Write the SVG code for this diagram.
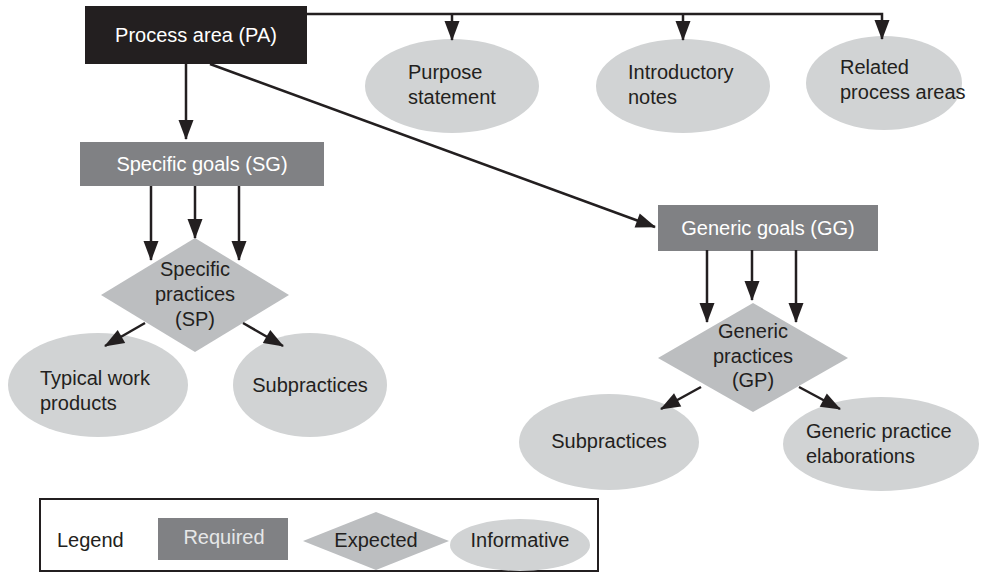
<svg xmlns="http://www.w3.org/2000/svg" width="989" height="577" viewBox="0 0 989 577">
<style>
text{font-family:"Liberation Sans",Arial,sans-serif;font-size:20px;fill:#231f20}
.w{fill:#ffffff}
.lw{fill:#e6e7e8}
.c{text-anchor:middle}
.req{fill:#808184}
.exp{fill:#bcbec0}
.inf{fill:#d1d3d4}
.ln{stroke:#231f20;stroke-width:2.5;fill:none}
</style>
<defs>
<marker id="ah" markerUnits="userSpaceOnUse" markerWidth="20" markerHeight="16" refX="19" refY="8" orient="auto" overflow="visible">
<path d="M0,0.5 L20,8 L0,15.5 z" fill="#231f20"/>
</marker>
</defs>
<rect width="989" height="577" fill="#ffffff"/>

<g id="pa">
<rect x="85" y="6" width="222" height="58" fill="#231f20"/>
<text class="w c" x="196" y="42">Process area (PA)</text>
</g>

<g id="purpose">
<ellipse class="inf" cx="452" cy="86" rx="87" ry="47"/>
<text x="408" y="79">Purpose</text>
<text x="408" y="104">statement</text>
</g>

<g id="intro">
<ellipse class="inf" cx="683" cy="86" rx="87" ry="47"/>
<text x="628" y="79">Introductory</text>
<text x="628" y="104">notes</text>
</g>

<g id="related">
<ellipse class="inf" cx="884" cy="83" rx="78" ry="47"/>
<text x="840" y="74">Related</text>
<text x="840" y="99">process areas</text>
</g>

<g id="sg">
<rect class="req" x="80" y="142" width="244" height="44"/>
<text class="w c" x="202" y="171">Specific goals (SG)</text>
</g>

<g id="sp">
<polygon class="exp" points="195,238 289,295 195,352 101,295"/>
<text class="c" x="195" y="276">Specific</text>
<text class="c" x="195" y="301">practices</text>
<text class="c" x="195" y="326">(SP)</text>
</g>

<g id="twp">
<ellipse class="inf" cx="98" cy="385" rx="90" ry="52"/>
<text x="40" y="385">Typical work</text>
<text x="40" y="410">products</text>
</g>

<g id="subp1">
<ellipse class="inf" cx="310" cy="385" rx="77" ry="52"/>
<text class="c" x="310" y="392">Subpractices</text>
</g>

<g id="gg">
<rect class="req" x="658" y="205" width="220" height="46"/>
<text class="w c" x="768" y="235">Generic goals (GG)</text>
</g>

<g id="gp">
<polygon class="exp" points="753,303 848,358 753,412 658,358"/>
<text class="c" x="753" y="338">Generic</text>
<text class="c" x="753" y="363">practices</text>
<text class="c" x="753" y="387">(GP)</text>
</g>

<g id="subp2">
<ellipse class="inf" cx="609" cy="442" rx="90" ry="48"/>
<text class="c" x="609" y="448">Subpractices</text>
</g>

<g id="gpe">
<ellipse class="inf" cx="881" cy="444" rx="98" ry="47"/>
<text x="806" y="438">Generic practice</text>
<text x="806" y="463">elaborations</text>
</g>

<g id="legend">
<rect x="40" y="499" width="558" height="72" fill="none" stroke="#231f20" stroke-width="2"/>
<text x="57" y="547">Legend</text>
<rect class="req" x="158" y="518" width="130" height="42"/>
<text class="lw c" x="224" y="544">Required</text>
<polygon class="exp" points="376,512 449,541 376,570 303,541"/>
<text class="c" x="376" y="547">Expected</text>
<ellipse class="inf" cx="520" cy="545" rx="70" ry="26"/>
<text class="c" x="520" y="547">Informative</text>
</g>

<g id="connectors">
<path class="ln" d="M307,14 H882 V39" marker-end="url(#ah)"/>
<line class="ln" x1="452" y1="14" x2="452" y2="40" marker-end="url(#ah)"/>
<line class="ln" x1="683" y1="14" x2="683" y2="40" marker-end="url(#ah)"/>
<line class="ln" x1="186" y1="64" x2="186" y2="139" marker-end="url(#ah)"/>
<line class="ln" x1="210" y1="64" x2="655" y2="227" marker-end="url(#ah)"/>
<line class="ln" x1="151" y1="186" x2="151" y2="260" marker-end="url(#ah)"/>
<line class="ln" x1="195" y1="186" x2="195" y2="238" marker-end="url(#ah)"/>
<line class="ln" x1="239" y1="186" x2="239" y2="260" marker-end="url(#ah)"/>
<line class="ln" x1="145" y1="323" x2="105" y2="346" marker-end="url(#ah)"/>
<line class="ln" x1="243" y1="323" x2="283" y2="346" marker-end="url(#ah)"/>
<line class="ln" x1="707" y1="250" x2="707" y2="322" marker-end="url(#ah)"/>
<line class="ln" x1="752" y1="250" x2="752" y2="300" marker-end="url(#ah)"/>
<line class="ln" x1="796" y1="250" x2="796" y2="322" marker-end="url(#ah)"/>
<line class="ln" x1="701" y1="387" x2="661" y2="409" marker-end="url(#ah)"/>
<line class="ln" x1="799" y1="387" x2="840" y2="409" marker-end="url(#ah)"/>
</g>
</svg>
